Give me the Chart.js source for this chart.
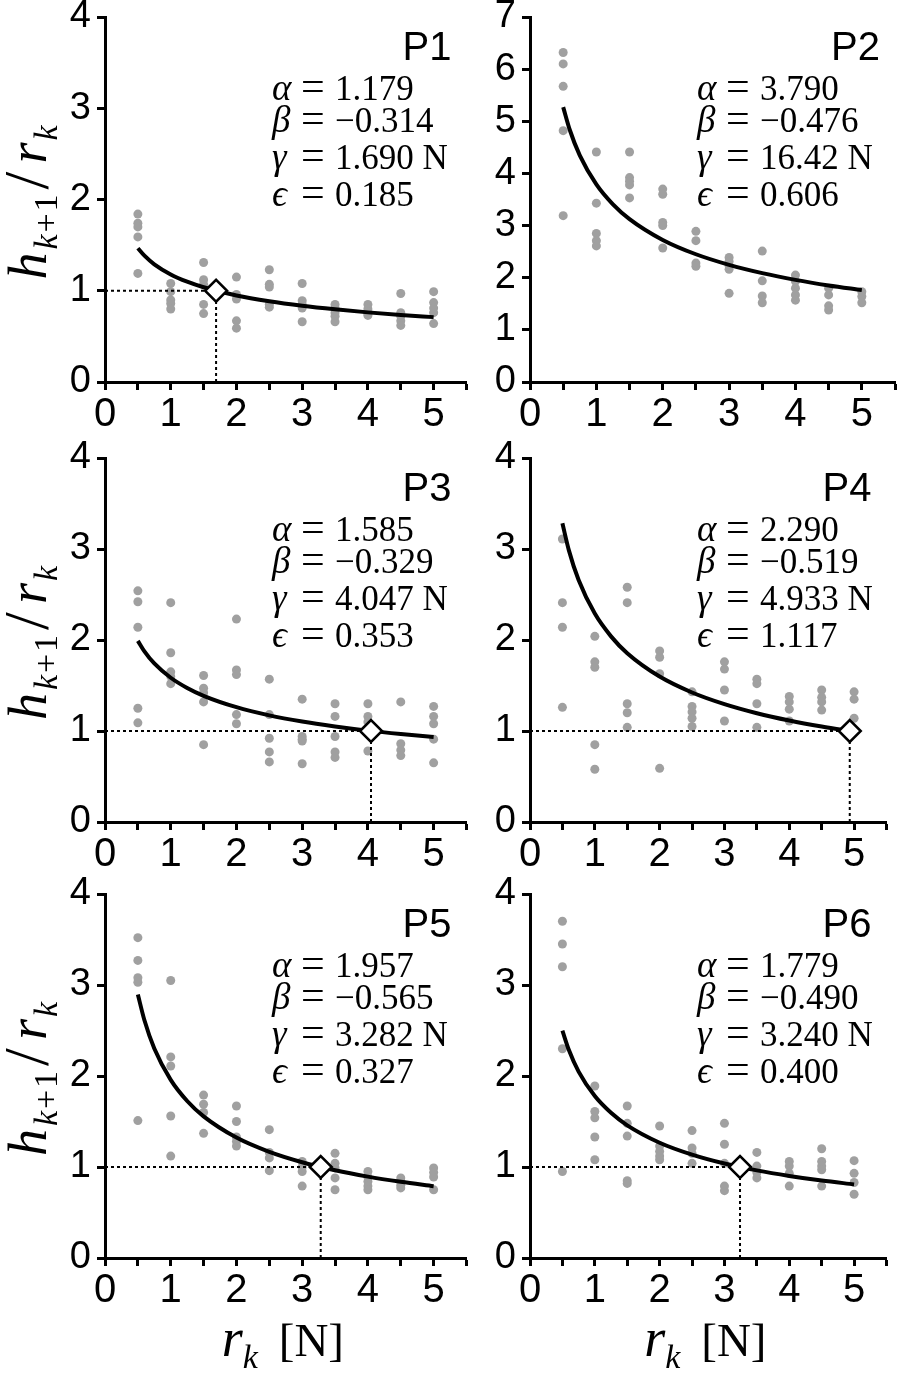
<!DOCTYPE html>
<html>
<head>
<meta charset="utf-8">
<script src="https://cdn.jsdelivr.net/npm/chart.js@4"></script>
<style>
  html, body { margin: 0; padding: 0; background: #fff; }
  #wrap { position: relative; width: 900px; height: 1382px; overflow: hidden; }
  canvas { position: absolute; }
</style>
</head>
<body>
<div id="wrap"></div>
<script>
// force levels r_k [N] where trials were recorded
const rLevels = [0.5, 1, 1.5, 2, 2.5, 3, 3.5, 4, 4.5, 5]

// trials h_{k+1}/r_k, one list per force level
const p1Trials = [[1.84,1.74,1.70,1.59,1.19],[1.08,0.99,0.90,0.86,0.80],[1.31,1.12,1.07,0.85,0.75],[1.15,0.96,0.91,0.67,0.59],[1.23,1.07,1.04,0.85,0.82],
                  [1.08,0.89,0.85,0.81,0.66],[0.85,0.81,0.76,0.72,0.66],[0.85,0.80,0.77,0.75,0.73],[0.97,0.76,0.72,0.67,0.62],[0.99,0.87,0.81,0.76,0.64]]
const p2Trials = [[6.32,6.10,5.67,4.82,3.19],[4.41,3.43,2.85,2.71,2.61],[4.41,3.92,3.85,3.78,3.53],[3.70,3.60,3.06,3.00,2.57],[2.89,2.71,2.28,2.22],
                  [2.39,2.31,2.23,2.16,1.70],[2.51,1.94,1.65,1.52],[2.05,1.93,1.80,1.67,1.57],[1.80,1.67,1.46,1.38],[1.73,1.64,1.52]]
const p3Trials = [[2.54,2.42,2.14,1.25,1.09],[2.41,1.86,1.65,1.60,1.52],[1.61,1.47,1.42,1.32,0.85],[2.23,1.67,1.62,1.18,1.08],[1.57,1.18,0.92,0.77,0.66],
                  [1.35,0.94,0.91,0.89,0.64],[1.30,1.16,0.94,0.77,0.71],[1.30,1.16,1.10,0.78],[1.32,0.86,0.79,0.73],[1.27,1.16,1.08,0.91,0.65]]
const p4Trials = [[3.11,2.41,2.14,1.26],[2.04,1.76,1.70,0.85,0.58],[2.58,2.41,1.30,1.20,1.04],[1.88,1.81,1.63,0.59],[1.43,1.27,1.21,1.14,1.05],
                  [1.76,1.68,1.45,1.11],[1.57,1.52,1.30,1.04],[1.38,1.32,1.24,1.11],[1.45,1.37,1.32,1.23],[1.43,1.35,1.14]]
const p5Trials = [[3.52,3.27,3.08,3.03,1.51],[3.05,2.21,2.11,1.56,1.12],[1.79,1.69,1.60,1.37],[1.67,1.50,1.33,1.28,1.23],[1.41,1.16,1.10,0.96],
                  [1.06,1.00,0.95,0.79],[1.15,1.04,0.99,0.88,0.75],[0.95,0.89,0.84,0.79,0.75],[0.88,0.84,0.80,0.77],[0.99,0.94,0.89,0.75]]
const p6Trials = [[3.70,3.45,3.20,2.30,0.95],[1.89,1.61,1.54,1.33,1.08],[1.67,1.48,1.34,0.85,0.82],[1.45,1.23,1.17,1.12,1.08],[1.40,1.21,1.15,1.04],
                  [1.48,1.25,1.04,0.79,0.74],[1.16,1.01,0.94,0.88],[1.06,1.01,0.93,0.79],[1.20,1.06,1.01,0.97,0.79],[1.07,0.93,0.83,0.70]]

// fitted curve, sampled along r
const fitR = [0.5, 0.6, 0.75, 1, 1.25, 1.5, 2, 2.5, 3, 3.5, 4, 4.5, 5]
const p1Fit = [1.466, 1.384, 1.290, 1.179, 1.099, 1.038, 0.948, 0.884, 0.835, 0.796, 0.763, 0.735, 0.711]
const p2Fit = [5.272, 4.833, 4.347, 3.790, 3.408, 3.125, 2.725, 2.450, 2.247, 2.088, 1.959, 1.852, 1.762]
const p3Fit = [1.991, 1.875, 1.742, 1.585, 1.473, 1.387, 1.262, 1.172, 1.104, 1.050, 1.004, 0.966, 0.933]
const p4Fit = [3.282, 2.985, 2.659, 2.290, 2.040, 1.855, 1.598, 1.423, 1.295, 1.195, 1.115, 1.049, 0.993]
const p5Fit = [2.895, 2.612, 2.302, 1.957, 1.725, 1.556, 1.323, 1.166, 1.052, 0.964, 0.894, 0.837, 0.788]
const p6Fit = [2.498, 2.285, 2.048, 1.779, 1.595, 1.458, 1.267, 1.136, 1.038, 0.963, 0.902, 0.851, 0.809]

const panelNames = ['P1', 'P2', 'P3', 'P4', 'P5', 'P6']
const gammaVals = [1.690, 16.42, 4.047, 4.933, 3.282, 3.240]
const yMaxVals = [4, 7, 4, 4, 4, 4]
const alphaText = ['1.179', '3.790', '1.585', '2.290', '1.957', '1.779']
const betaText = ['\u22120.314', '\u22120.476', '\u22120.329', '\u22120.519', '\u22120.565', '\u22120.490']
const gammaText = ['1.690 N', '16.42 N', '4.047 N', '4.933 N', '3.282 N', '3.240 N']
const epsText = ['0.185', '0.606', '0.353', '1.117', '0.327', '0.400']

const allTrials = [p1Trials, p2Trials, p3Trials, p4Trials, p5Trials, p6Trials]
const allFits = [p1Fit, p2Fit, p3Fit, p4Fit, p5Fit, p6Fit]

// page layout: plot area edges in px
const colLeft = [105, 530], colRight = [470, 895]
const rowTop = [17, 458, 894], rowBottom = [382, 822, 1258]
const canvasLeft = [0, 440], canvasRight = [480, 900]

const SANS = '"Liberation Sans Narrow", "Liberation Sans", Arial, sans-serif'
const SERIF = '"Liberation Serif", "DejaVu Serif", serif'

const drawPieces = (ctx, pieces) => {
    pieces.forEach(function (p) {
        ctx.font = p[1]
        ctx.fillText(p[0], p[2], p[3])
    })
}

const labelPlugin = (i, col, row) => ({
    id: 'labels' + i,
    afterDraw(chart) {
        const ctx = chart.ctx
        const a = chart.chartArea
        ctx.save()
        ctx.fillStyle = '#000'
        ctx.textBaseline = 'alphabetic'

        // panel name
        ctx.textAlign = 'right'
        ctx.font = '40px ' + SANS
        ctx.fillText(panelNames[i], a.right - 15, a.top + 43)

        // fit parameters
        ctx.textAlign = 'left'
        const x0 = a.left + 167
        const lines = [['\u03b1', alphaText[i]], ['\u03b2', betaText[i]], ['\u03b3', gammaText[i]], ['\u03f5', epsText[i]]]
        const base = [83, 115, 152, 189]
        lines.forEach(function (ln, j) {
            const y = a.top + base[j]
            drawPieces(ctx, [
                [ln[0], 'italic 37px ' + SERIF, x0, y],
                ['=', '42px ' + SERIF, x0 + 29, y],
                [ln[1], '35px ' + SERIF, x0 + 63, y]
            ])
        })

        // y title on the left column
        if (col === 0) {
            const mid = (a.top + a.bottom) / 2
            ctx.save()
            ctx.translate(46, mid + 80)
            ctx.rotate(-Math.PI / 2)
            drawPieces(ctx, [
                ['h', 'italic 54px ' + SERIF, 0, 0],
                ['k', 'italic 34px ' + SERIF, 30, 11],
                ['+', '34px ' + SERIF, 47, 11],
                ['1', '34px ' + SERIF, 68, 11],
                ['/', '64px ' + SERIF, 90, 2],
                ['r', 'italic 54px ' + SERIF, 116, 0],
                ['k', 'italic 34px ' + SERIF, 139, 11]
            ])
            ctx.restore()
        }

        // x title on the bottom row
        if (row === 2) {
            const cx = (a.left + a.right) / 2 - 64
            const y = a.bottom + 98
            drawPieces(ctx, [
                ['r', 'italic 54px ' + SERIF, cx, y],
                ['k', 'italic 34px ' + SERIF, cx + 21, y + 12],
                ['[N]', '47px ' + SERIF, cx + 57, y]
            ])
        }
        ctx.restore()
    }
})

const axisStyle = (fontSize, pad) => ({
    grid: { drawOnChartArea: false, drawTicks: true, tickLength: 8, tickWidth: 3, tickColor: '#000', color: '#000' },
    border: { display: true, color: '#000', width: 3 },
    ticks: { color: '#000', padding: pad, font: { family: SANS, size: fontSize } }
})

const wrap = document.getElementById('wrap')

for (let i = 0; i < 6; i++) {
    const col = i % 2
    const row = Math.floor(i / 2)
    const left = canvasLeft[col], right = canvasRight[col]
    const top = rowTop[row] - 40
    const bottom = row === 2 ? 1382 : rowBottom[row] + 58
    const cv = document.createElement('canvas')
    cv.width = right - left
    cv.height = bottom - top
    cv.style.left = left + 'px'
    cv.style.top = top + 'px'
    wrap.appendChild(cv)

    let points = []
    rLevels.forEach(function (r, j) {
        allTrials[i][j].forEach(function (v) { points.push({ x: r, y: v }) })
    })
    const fit = allFits[i]
    const g = gammaVals[i]

    let datasets = []
    if (g <= 5.5) {
        datasets.push({
            data: [{ x: g, y: 1 }], pointStyle: 'rectRot', pointRadius: 11,
            backgroundColor: '#fff', borderColor: '#000', borderWidth: 2.5, order: 0
        })
        datasets.push({
            data: [{ x: 0, y: 1 }, { x: g, y: 1 }], showLine: true, borderColor: '#000',
            borderWidth: 2, borderDash: [3, 3], pointRadius: 0, order: 2
        })
        datasets.push({
            data: [{ x: g, y: 0 }, { x: g, y: 1 }], showLine: true, borderColor: '#000',
            borderWidth: 2, borderDash: [3, 3], pointRadius: 0, order: 2
        })
    }
    datasets.push({
        data: fitR.map((r, j) => ({ x: r, y: fit[j] })), showLine: true, borderColor: '#000',
        borderWidth: 4, pointRadius: 0, cubicInterpolationMode: 'monotone', order: 1
    })
    datasets.push({
        data: points, pointRadius: 4.5, backgroundColor: '#a0a0a0', borderWidth: 0, order: 3
    })

    const xAxis = axisStyle(40, 1)
    const yAxis = axisStyle(38, 6)
    const xH = bottom - rowBottom[row]
    const yW = colLeft[col] - left

    new Chart(cv, {
        type: 'scatter',
        data: { datasets: datasets },
        options: {
            responsive: false,
            animation: false,
            layout: { padding: { top: 40, right: right - colRight[col], left: 0, bottom: 0 } },
            plugins: { legend: { display: false }, tooltip: { enabled: false } },
            scales: {
                x: Object.assign(xAxis, {
                    type: 'linear', min: 0, max: 5.5,
                    ticks: Object.assign(xAxis.ticks, {
                        stepSize: 0.5, autoSkip: false, maxRotation: 0,
                        callback: v => Number.isInteger(v) ? v : ''
                    }),
                    afterFit: s => { s.height = xH }
                }),
                y: Object.assign(yAxis, {
                    type: 'linear', min: 0, max: yMaxVals[i],
                    ticks: Object.assign(yAxis.ticks, { stepSize: 1, autoSkip: false }),
                    afterFit: s => { s.width = yW }
                })
            }
        },
        plugins: [labelPlugin(i, col, row)]
    })
}
</script>
</body>
</html>
